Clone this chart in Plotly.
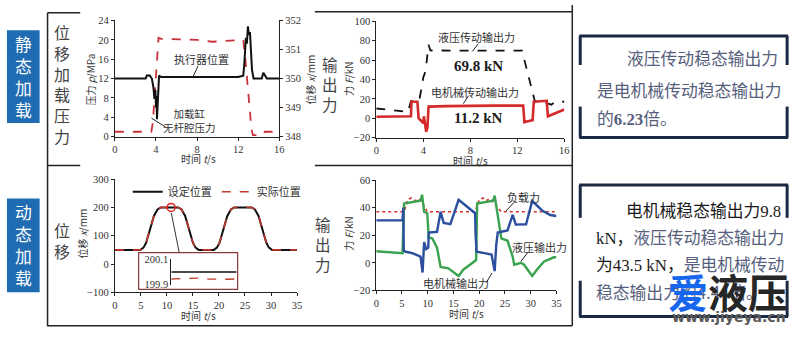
import plotly.graph_objects as go

W, H = 805, 338
def px(x): return x / W
def py(y): return 1 - y / H

# ---------------- data ----------------
# static loading: actuator position (mm, right axis) and cylinder pressure (MPa)
t_pos1 = [0, 3.0, 3.1, 3.4, 3.6, 3.75, 3.85, 3.95, 4.0, 4.05, 4.1, 4.2, 4.3, 4.5, 6, 8, 10, 12, 12.5, 12.6, 12.75, 12.85, 12.95, 13.05, 13.15, 13.25, 13.35, 13.5, 14.3, 14.45, 14.6, 14.8, 16]
pos1 = [350.0, 350.0, 350.1, 350.1, 350.0, 349.7, 349.3, 349.6, 349.0, 349.4, 348.6, 349.3, 350.1, 350.05, 350.05, 350.05, 350.05, 350.05, 350.1, 350.5, 351.4, 351.2, 351.8, 351.5, 351.6, 351.0, 350.3, 350.0, 350.0, 350.2, 350.1, 350.0, 350.0]
t_p1 = [0, 3.55, 3.7, 4.0, 4.25, 4.5, 8, 9.5, 10.5, 12.5, 12.7, 13.0, 13.3, 13.45, 14.4, 14.6, 16]
p1 = [1.0, 1.0, 3, 12, 20.4, 20.2, 20.0, 19.6, 19.7, 20.0, 16, 8, 1.5, 0.3, 0.3, 1.0, 1.0]

# static loading: output forces (kN)
t_hyd2 = [0, 2.7, 2.95, 3.65, 4.0, 4.2, 4.45, 4.6, 8, 12.4, 12.6, 13.0, 13.5, 14.0, 14.9, 15.2, 16]
hyd2 = [10, 6.5, 17.5, 17.5, 42, 49, 76, 70, 69.8, 69.8, 60, 40, 17, 17.5, 14, 17, 17]
t_ele2 = [0, 2.95, 3.0, 3.5, 3.6, 4.0, 4.05, 4.15, 4.25, 4.35, 4.45, 6, 8, 10, 12.5, 12.6, 13.0, 13.3, 13.4, 14.5, 14.6, 15, 16]
ele2 = [1.5, 2, 17, 17, 0, -5, 2, -6, -14, -10, 12, 12.5, 13, 13, 13, -4, -3, -2, 17, 18, 2, 4, 9]

# dynamic loading: set / actual position (mm)
t_pos3 = [0, 4.9, 5.5, 6.0, 7.5, 8.2, 8.8, 12.2, 12.8, 13.5, 15.0, 15.5, 16.1,
          19.0, 19.6, 20.1, 21.6, 22.3, 22.9, 26.3, 26.9, 27.6, 29.1, 29.6, 30.2, 35]
set3 = [50, 50, 58, 75, 170, 193, 200, 200, 193, 170, 75, 58, 50,
        50, 58, 75, 170, 193, 200, 200, 193, 170, 75, 58, 50, 50]
act3 = [50, 50, 58, 75, 170, 193, 200, 200, 193, 170, 75, 58, 50,
        50, 58, 75, 170, 193, 200, 200, 193, 170, 75, 58, 50, 50]
mark_t, mark_x = [10.8], [200]
# inset (zoom around 200 mm)
t_in = [10.6, 11.0, 11.4, 11.8, 12.2, 12.6, 13.0, 13.4]
set_in = [200.0] * 8
act_in = [199.945, 199.948, 199.955, 199.952, 199.944, 199.94, 199.942, 199.945]

# dynamic loading: forces (kN)
t_ele4 = [0, 5.1, 5.25, 5.35, 5.7, 7.0, 8.6, 9.0, 9.3, 9.7, 10.1, 10.2, 11.8, 12.5, 13.1, 14.4, 16.0, 18.2, 19.2, 19.3, 19.5, 21.0, 22.4, 23.0, 23.3, 23.6, 25.5, 26.5, 27.1, 29.1, 30.3, 32.2, 33.8, 35]
ele4 = [30.8, 31, 40, 9, 8, 7, 4.5, -7, 15, 10, 11, 22, 22.5, 37, 29, 28, 45.7, 39, 36, 20, 8, 7, 6, -6, 12.6, 22, 23.5, 34.7, 27.7, 28, 45, 38, 34.7, 34]
t_hyd4 = [0, 5.0, 5.1, 5.4, 7.0, 8.6, 8.9, 9.3, 9.9, 10.2, 10.9, 11.8, 12.5, 14.0, 16.0, 16.9, 18.2, 19.2, 19.4, 19.6, 21.0, 22.7, 23.0, 23.5, 24.3, 25.5, 26.5, 26.8, 28.1, 28.7, 30.3, 31.2, 32.6, 34.5, 35]
hyd4 = [8.4, 7, 7, 43, 44, 45, 49.4, 37, 36, 18.4, 17.7, 11, -3, -4, -9.6, -5, -1.4, 2, 2, 43, 44, 45, 48.7, 36, 17.7, 16, 4.4, -1.4, 0, -1.4, -9.6, -5, 1, 4, 4]
t_load4 = [0, 5.4, 5.8, 6.1, 6.8, 7.5, 8.2, 8.9, 9.9, 19.2, 19.6, 20.0, 20.7, 21.4, 22.0, 22.7, 24.3, 35]
load4 = [37, 37, 41.7, 46, 47, 45, 46.5, 44, 37, 37, 41.5, 45.5, 47, 45, 46.5, 44, 37, 37]

# ---------------- figure ----------------
SERIF = "Liberation Serif, Noto Sans CJK SC"
CJK = "Noto Sans CJK SC, Liberation Serif"
TXT = "#333333"

fig = go.Figure()

# chart 1
fig.add_trace(go.Scatter(x=t_pos1, y=pos1, xaxis="x", yaxis="y2", mode="lines",
                         line=dict(color="#111111", width=2), showlegend=False))
fig.add_trace(go.Scatter(x=t_p1, y=p1, xaxis="x", yaxis="y", mode="lines",
                         line=dict(color="#c8303a", width=1.8, dash="dash"), showlegend=False))
# chart 2
fig.add_trace(go.Scatter(x=t_hyd2, y=hyd2, xaxis="x2", yaxis="y3", mode="lines",
                         line=dict(color="#111111", width=1.8, dash="dash"), showlegend=False))
fig.add_trace(go.Scatter(x=t_ele2, y=ele2, xaxis="x2", yaxis="y3", mode="lines",
                         line=dict(color="#d42a2a", width=2.6), showlegend=False))
# chart 3
fig.add_trace(go.Scatter(x=t_pos3, y=set3, xaxis="x3", yaxis="y4", mode="lines", name="设定位置",
                         line=dict(color="#111111", width=2), showlegend=True))
fig.add_trace(go.Scatter(x=t_pos3, y=act3, xaxis="x3", yaxis="y4", mode="lines", name="实际位置",
                         line=dict(color="#c0392b", width=1.6, dash="dash"), showlegend=True))
fig.add_trace(go.Scatter(x=mark_t, y=mark_x, xaxis="x3", yaxis="y4", mode="markers",
                         marker=dict(symbol="circle-open", size=8, color="#e02020", line=dict(width=1.5)),
                         showlegend=False))
# inset
fig.add_trace(go.Scatter(x=t_in, y=set_in, xaxis="x5", yaxis="y6", mode="lines",
                         line=dict(color="#111111", width=1.6), showlegend=False))
fig.add_trace(go.Scatter(x=t_in, y=act_in, xaxis="x5", yaxis="y6", mode="lines",
                         line=dict(color="#c0392b", width=1.4, dash="dash"), showlegend=False))
# chart 4
fig.add_trace(go.Scatter(x=t_load4, y=load4, xaxis="x4", yaxis="y5", mode="lines",
                         line=dict(color="#d9302c", width=1.6, dash="dot"), showlegend=False))
fig.add_trace(go.Scatter(x=t_hyd4, y=hyd4, xaxis="x4", yaxis="y5", mode="lines",
                         line=dict(color="#3aa350", width=2.4), showlegend=False))
fig.add_trace(go.Scatter(x=t_ele4, y=ele4, xaxis="x4", yaxis="y5", mode="lines",
                         line=dict(color="#2b4f9e", width=2.4), showlegend=False))

def ax(**kw):
    d = dict(showline=True, linecolor="#222", linewidth=1, ticks="outside", ticklen=3,
             tickcolor="#222", showgrid=False, zeroline=False,
             tickfont=dict(family=SERIF, size=10.5, color=TXT))
    d.update(kw)
    return d

layout = dict(
    width=W, height=H, margin=dict(l=0, r=0, t=0, b=0),
    paper_bgcolor="white", plot_bgcolor="rgba(0,0,0,0)",
    xaxis=ax(domain=[px(113), px(279)], anchor="y", range=[0, 16], tickvals=[0, 4, 8, 12, 16]),
    yaxis=ax(domain=[py(136), py(16)], anchor="x", range=[0, 24], tickvals=[0, 4, 8, 12, 16, 20, 24]),
    yaxis2=ax(overlaying="y", side="right", anchor="x", range=[348, 352], tickvals=[348, 349, 350, 351, 352]),
    xaxis2=ax(domain=[px(377), px(567)], anchor="y3", range=[0, 16], tickvals=[0, 4, 8, 12, 16]),
    yaxis3=ax(domain=[py(137), py(17)], anchor="x2", range=[-20, 100], tickvals=[-20, 0, 20, 40, 60, 80, 100]),
    xaxis3=ax(domain=[px(113), px(297)], anchor="y4", range=[0, 35], tickvals=[0, 5, 10, 15, 20, 25, 30, 35]),
    yaxis4=ax(domain=[py(297), py(180)], anchor="x3", range=[-100, 300], tickvals=[-100, 0, 100, 200, 300]),
    xaxis4=ax(domain=[px(377), px(559)], anchor="y5", range=[0, 35], tickvals=[0, 5, 10, 15, 20, 25, 30, 35]),
    yaxis5=ax(domain=[py(295), py(181)], anchor="x4", range=[-20, 60], tickvals=[-20, 0, 20, 40, 60]),
    xaxis5=dict(domain=[px(170), px(236)], anchor="y6", range=[10.6, 13.4], visible=False),
    yaxis6=ax(domain=[py(289), py(263)], anchor="x5", range=[199.9, 200.1], tickvals=[199.9, 200.1],
              ticktext=["199.9", "200.1"], ticks="inside", ticklen=4),
    legend=dict(x=px(126), y=py(178), xanchor="left", yanchor="top", orientation="h",
                font=dict(family=CJK, size=11, color=TXT), bgcolor="rgba(0,0,0,0)"),
)
fig.update_layout(**layout)

shapes = []
def seg(x0, y0, x1, y1, color="#222", width=1.5):
    shapes.append(dict(type="line", xref="paper", yref="paper", x0=px(x0), y0=py(y0),
                       x1=px(x1), y1=py(y1), line=dict(color=color, width=width)))
def rect(x0, y0, x1, y1, fill=None, color=None, width=0):
    shapes.append(dict(type="rect", xref="paper", yref="paper", x0=px(x0), y0=py(y1),
                       x1=px(x1), y1=py(y0), fillcolor=fill or "rgba(0,0,0,0)",
                       line=dict(color=color or "rgba(0,0,0,0)", width=width), layer="below"))

# panel frame lines
seg(45, 8, 45, 332)
seg(45, 8, 78, 8)
seg(45, 166, 78, 166)
seg(315, 166, 575, 166)
seg(315, 7, 575, 7)
seg(575, 0, 575, 331.5)
seg(45, 331.5, 575, 331.5)

# blue category boxes
rect(4, 26, 37, 122, fill="#1f6cb2")
rect(4, 200, 37, 297, fill="#1f6cb2")

# right bracket boxes
NAVY = "#1c2942"
for (top, bot, g1, g2) in [(32, 137, 62, 105), (186, 322, 220, 285)]:
    seg(582, top, 793, top, NAVY, 3)
    seg(582, bot, 793, bot, NAVY, 3)
    for xx in (583, 792):
        seg(xx, top, xx, g1, NAVY, 3)
        seg(xx, g2, xx, bot, NAVY, 3)

# inset box + leader to marker
shapes.append(dict(type="rect", xref="paper", yref="paper", x0=px(137), y0=py(294), x1=px(237), y1=py(256),
                   line=dict(color="#8b3a3a", width=1.2)))
seg(170, 215, 178, 256, "#333", 1)

# leader lines for chart labels
seg(197, 63, 192, 74, "#222", 1)
seg(150, 117, 164, 126, "#222", 1)
seg(480, 40, 474, 48, "#222", 1)
seg(470, 94, 465, 102, "#222", 1)
seg(517, 203, 508, 213, "#222", 1)
seg(530, 256, 523, 265, "#222", 1)
seg(488, 287, 494, 277, "#222", 1)

fig.update_layout(shapes=shapes)

ann = []
def text(x, y, s, size=11, color=TXT, family=CJK, angle=0, xanchor="center", align="center"):
    ann.append(dict(x=px(x), y=py(y), xref="paper", yref="paper", text=s, showarrow=False,
                    xanchor=xanchor, yanchor="middle", textangle=angle, align=align,
                    font=dict(family=family, size=size, color=color)))

def column(x, ytop, ybot, chars, size, color):
    text(x, (ytop + ybot) / 2, "<br>".join(chars), size=size, color=color)

# blue box labels (vertical)
column(21, 42, 107, "静态加载", 16.8, "white")
column(21, 216, 281, "动态加载", 16.8, "white")

# vertical row labels
GRAYL = "#444444"
column(60, 32, 132, "位移加载压力", 16, GRAYL)
column(330, 62, 101, "输出力", 15.5, GRAYL)
column(60, 233, 253, "位移", 16, GRAYL)
column(323, 228, 267, "输出力", 15.5, GRAYL)

# axis titles
text(88, 77, "压力 <i>p</i>/MPa", size=10, angle=-90)
text(197, 159, "时间 <i>t</i>/s", size=10)
text(311, 77, "位移 <i>x</i>/mm", size=10, angle=-90)
text(349, 77, "力 <i>F</i>/kN", size=10, angle=-90)
text(472, 161, "时间 <i>t</i>/s", size=10)
text(80, 236, "位移 <i>x</i>/mm", size=10, angle=-90)
text(197, 321, "时间 <i>t</i>/s", size=10)
text(349, 237, "力 <i>F</i>/kN", size=10, angle=-90)
text(468, 319, "时间 <i>t</i>/s", size=10)

# chart labels
text(200, 56, "执行器位置", size=11)
text(188, 119.5, "加载缸<br>无杆腔压力", size=10.5)
text(478, 33, "液压传动输出力", size=11)
text(480, 63, "<b>69.8 kN</b>", size=15, family=SERIF, color="#1a1a1a")
text(477, 90, "电机械传动输出力", size=11)
text(480, 117, "<b>11.2 kN</b>", size=15, family=SERIF, color="#1a1a1a")
text(526, 198, "负载力", size=11)
text(542, 250, "液压输出力", size=11)
text(458, 287, "电机械输出力", size=11)

# right explanatory boxes
GB = "#56607c"
BK = "#1a1a1a"
MIX = "Noto Sans CJK SC, Liberation Serif"
text(628, 55, "液压传动稳态输出力", size=16.8, color=GB, family=MIX, xanchor="left")
text(598, 88, "是电机械传动稳态输出力", size=16.8, color=GB, family=MIX, xanchor="left")
text(598, 117, "的<b><span style='font-family:Liberation Serif'>6.23</span></b>倍。", size=16.8, color=GB, family=MIX, xanchor="left")
text(627, 212, "电机械稳态输出力<span style='font-family:Liberation Serif'>9.8</span>", size=16.8, color=BK, family=MIX, xanchor="left")
text(597, 240, "<span style='font-family:Liberation Serif'>kN</span>，<span style='color:%s'>液压传动稳态输出力</span>" % GB,
     size=16.8, color=BK, family=MIX, xanchor="left")
text(597, 268, "为<span style='font-family:Liberation Serif'>43.5 kN</span>，<span style='color:%s'>是电机械传动</span>" % GB,
     size=16.8, color=BK, family=MIX, xanchor="left")
text(597, 297, "稳态输出力的4.44倍。", size=16.8, color=GB, family=MIX, xanchor="left")

# watermark
text(732, 296, "<b><span style='color:#1766ee'>爱</span>液压</b>", size=40, color="#262626", family=CJK)
text(733, 322, "<b>www.jiyeya.cn</b>", size=14, color="#5a5a5a", family="DejaVu Sans")

fig.update_layout(annotations=ann)
fig.write_html("out.html")
